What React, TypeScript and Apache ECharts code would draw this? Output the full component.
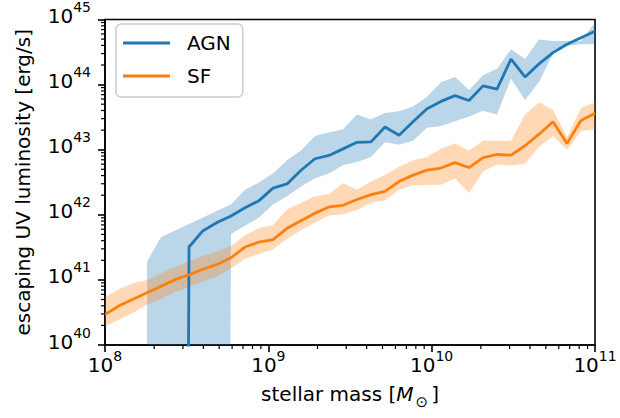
import React, { useEffect, useRef } from "react";
import * as echarts from "echarts";

// stellar mass bin positions [M_sun]
const mass = [
  1.0e8, 1.2186e8, 1.4845e8, 1.8089e8, 2.2028e8, 2.6827e8, 3.2692e8, 3.9811e8, 4.8517e8,
  5.9095e8, 7.1969e8, 8.77e8, 1.068e9, 1.3013e9, 1.5849e9, 1.9307e9, 2.352e9, 2.8655e9,
  3.4905e9, 4.2517e9, 5.1795e9, 6.3096e9, 7.686e9, 9.3633e9, 1.1406e10, 1.3895e10,
  1.6927e10, 2.0621e10, 2.5119e10, 3.0598e10, 3.7276e10, 4.541e10, 5.5317e10, 6.7388e10,
  8.209e10, 1.0e11,
];

// SF: escaping UV luminosity [erg/s]
const sfMedian = [
  2.93e40, 4.0e40, 5.05e40, 6.35e40, 8.0e40, 1.01e41, 1.2e41, 1.46e41, 1.73e41, 2.19e41,
  3.2e41, 3.81e41, 4.16e41, 6.2e41, 8.1e41, 1.06e42, 1.32e42, 1.4e42, 1.72e42, 2.04e42,
  2.29e42, 3.24e42, 4.07e42, 4.85e42, 5.23e42, 6.32e42, 5.32e42, 7.53e42, 8.44e42, 8.26e42,
  1.15e43, 1.73e43, 2.69e43, 1.25e43, 2.81e43, 3.62e43,
];
const sfUpper = [
  5.47e40, 7.2e40, 8.9e40, 9.97e40, 1.26e41, 1.58e41, 1.91e41, 2.35e41, 2.74e41, 3.32e41,
  4.86e41, 6.2e41, 7.0e41, 1.21e42, 1.53e42, 1.93e42, 2.09e42, 3.05e42, 2.42e42, 3.24e42,
  4.07e42, 5.45e42, 6.86e42, 7.7e42, 1.03e43, 1.25e43, 9.7e42, 1.37e43, 1.37e43, 1.37e43,
  3.46e43, 5.37e43, 4.11e43, 1.56e43, 4.36e43, 5.37e43,
];
const sfLower = [
  1.93e40, 2.47e40, 3.14e40, 4.14e40, 5.1e40, 6.5e40, 7.74e40, 9.5e40, 1.13e41, 1.5e41,
  2.12e41, 2.51e41, 2.94e41, 4.28e41, 5.78e41, 7.63e41, 9.73e41, 1.02e42, 1.18e42, 1.53e42,
  1.66e42, 2.42e42, 2.85e42, 2.88e42, 2.9e42, 3.63e42, 2.16e42, 4.63e42, 5.9e42, 5.7e42,
  6.1e42, 1.1e43, 1.63e43, 1.0e43, 1.94e43, 2.06e43,
];

// AGN: null = no bin, 0 = empty bin (drawn clipped at the bottom, as on a log axis)
const agnMedian = [
  null, null, null, null, null, 0, 3.2e41, 5.7e41, 7.6e41, 9.6e41,
  1.28e42, 1.65e42, 2.57e42, 2.98e42, 4.84e42, 7.26e42, 8.15e42, 1.03e43, 1.3e43, 1.32e43,
  2.23e43, 1.67e43, 2.69e43, 4.27e43, 5.52e43, 6.76e43, 5.69e43, 9.55e43, 8.53e43, 2.47e44,
  1.31e44, 2.08e44, 3.1e44, 4.16e44, 5.23e44, 6.59e44,
];
const agnUpper = [
  null, null, null, 1.91e41, 4.54e41, 5.73e41, 7.2e41, 9.08e41, 1.15e42, 1.44e42,
  2.42e42, 3.13e42, 4.32e42, 6.86e42, 9.7e42, 1.63e43, 1.83e43, 2.06e43, 3.46e43, 2.91e43,
  3.67e43, 3.88e43, 4.62e43, 6.53e43, 1.09e44, 1.31e44, 8.24e43, 1.39e44, 1.75e44, 3.5e44,
  2.47e44, 4.94e44, 4.67e44, 4.67e44, 4.67e44, 9.0e44,
];
const agnLower = [
  null, null, null, 0, 0, 0, 0, 0, 0, 5.08e41,
  6.8e41, 9.08e41, 1.44e42, 1.93e42, 2.72e42, 3.63e42, 4.32e42, 5.77e42, 6.49e42, 7.71e42,
  1.3e43, 1.19e43, 1.37e43, 2.18e43, 2.31e43, 2.74e43, 3.23e43, 3.98e43, 3.46e43, 1.24e44,
  5.82e43, 1.1e44, 2.94e44, 3.92e44, 4.16e44, 4.16e44,
];

const seriesNames = ["AGN", "SF"];
const colors = ["#1f77b4", "#ff7f0e"];
const bandColors = ["rgba(31,119,180,0.3)", "rgba(255,127,14,0.3)"];

const xRange = [1e8, 1e11];
const yRange = [1e40, 1e45];
const decadesX = [1e8, 1e9, 1e10];
const decadesY = [1e40, 1e41, 1e42, 1e43, 1e44];
const minorMult = [2, 3, 4, 5, 6, 7, 8, 9];

const FLOOR = 1; // where a zero lands on the log axis (far below the plot)
const pos = (v: number) => (v > 0 ? v : FLOOR);

const FONT = "DejaVu Sans";

function bandSeries(upper: (number | null)[], lower: (number | null)[], color: string, z: number) {
  return {
    type: "custom",
    coordinateSystem: "cartesian2d",
    silent: true,
    clip: true,
    z,
    data: [[mass[0], yRange[0]]],
    encode: { x: 0, y: 1 },
    renderItem: (params: any, api: any) => {
      const idx = mass.map((_, i) => i).filter((i) => upper[i] != null && lower[i] != null);
      const top = idx.map((i) => api.coord([mass[i], pos(upper[i] as number)]));
      const bot = idx
        .slice()
        .reverse()
        .map((i) => api.coord([mass[i], pos(lower[i] as number)]));
      const cs = params.coordSys;
      return {
        type: "polygon",
        shape: { points: top.concat(bot) },
        style: { fill: color },
        clipPath: { type: "rect", shape: { x: cs.x, y: cs.y, width: cs.width, height: cs.height } },
      };
    },
  };
}

function lineData(vals: (number | null)[]) {
  const out: number[][] = [];
  vals.forEach((v, i) => {
    if (v != null) out.push([mass[i], pos(v)]);
  });
  return out;
}

const supFormatter = (v: number) => `{b|10}{s|${Math.round(Math.log10(v))}}`;
const supRich = {
  b: { fontSize: 20, lineHeight: 20, fontFamily: FONT, color: "#000", verticalAlign: "bottom" },
  s: {
    fontSize: 14,
    lineHeight: 14,
    fontFamily: FONT,
    color: "#000",
    verticalAlign: "bottom",
    padding: [0, 0, 12, 0],
  },
};

export default function App() {
  const ref = useRef<HTMLDivElement>(null);
  useEffect(() => {
    if (!ref.current) return;
    const chart = echarts.init(ref.current, undefined, { renderer: "svg" });
    const xMinor = decadesX.flatMap((d) => minorMult.map((k) => k * d));
    const yMinor = decadesY.flatMap((d) => minorMult.map((k) => k * d));
    chart.setOption({
      animation: false,
      backgroundColor: "#fff",
      textStyle: { fontFamily: FONT },
      grid: {
        left: 105,
        right: 25,
        top: 13,
        bottom: 73,
        show: true,
        borderColor: "#000",
        borderWidth: 1.6,
        backgroundColor: "transparent",
      },
      legend: {
        orient: "vertical",
        left: 116,
        top: 24,
        data: seriesNames,
        icon: "rect",
        itemWidth: 47,
        itemHeight: 3,
        itemGap: 11,
        padding: [8, 12, 10, 7],
        backgroundColor: "rgba(255,255,255,0.8)",
        borderColor: "#cccccc",
        borderWidth: 1.5,
        borderRadius: 5,
        selectedMode: false,
        textStyle: { fontSize: 20, fontFamily: FONT, color: "#000", lineHeight: 22, padding: [0, 0, 0, 12] },
      },
      xAxis: {
        type: "log",
        logBase: 10,
        min: xRange[0],
        max: xRange[1],
        name: "{n|stellar mass [}{it|M}{sub|⊙}{n|]}",
        nameLocation: "middle",
        nameGap: 44,
        nameTextStyle: {
          fontSize: 20,
          fontFamily: FONT,
          color: "#000",
          rich: {
            n: { fontSize: 20, fontFamily: FONT, color: "#000", verticalAlign: "bottom", lineHeight: 20, padding: [0, 0, 5, 0] },
            it: { fontSize: 20, fontFamily: FONT, fontStyle: "italic", color: "#000", verticalAlign: "bottom", lineHeight: 20, padding: [0, 0, 5, 0] },
            sub: { fontSize: 15, fontFamily: FONT, color: "#000", verticalAlign: "bottom", lineHeight: 15, padding: [0, 3, 0, 2] },
          },
        },
        axisLine: { show: true, lineStyle: { color: "#000", width: 1.6 } },
        axisTick: { show: true, length: 7, lineStyle: { color: "#000", width: 1.6 } },
        splitLine: { show: false },
        minorTick: { show: false },
        axisLabel: { formatter: supFormatter, rich: supRich, margin: 10, showMinLabel: true, showMaxLabel: true },
      },
      yAxis: {
        type: "log",
        logBase: 10,
        min: yRange[0],
        max: yRange[1],
        name: "escaping UV luminosity [erg/s]",
        nameLocation: "middle",
        nameGap: 72,
        nameTextStyle: { fontSize: 20, fontFamily: FONT, color: "#000" },
        axisLine: { show: true, lineStyle: { color: "#000", width: 1.6 } },
        axisTick: { show: true, length: 7, lineStyle: { color: "#000", width: 1.6 } },
        splitLine: { show: false },
        minorTick: { show: false },
        axisLabel: {
          formatter: supFormatter,
          rich: supRich,
          margin: 14,
          padding: [0, 0, 7, 0],
          showMinLabel: true,
          showMaxLabel: true,
        },
      },
      series: [
        bandSeries(agnUpper, agnLower, bandColors[0], 1),
        bandSeries(sfUpper, sfLower, bandColors[1], 2),
        {
          name: seriesNames[0],
          type: "line",
          data: lineData(agnMedian),
          showSymbol: false,
          symbol: "none",
          clip: true,
          z: 3,
          color: colors[0],
          lineStyle: { color: colors[0], width: 2.8 },
          itemStyle: { color: colors[0] },
        },
        {
          name: seriesNames[1],
          type: "line",
          data: lineData(sfMedian),
          showSymbol: false,
          symbol: "none",
          clip: true,
          z: 4,
          color: colors[1],
          lineStyle: { color: colors[1], width: 2.8 },
          itemStyle: { color: colors[1] },
        },
        {
          type: "custom",
          coordinateSystem: "cartesian2d",
          silent: true,
          clip: false,
          z: 5,
          data: xMinor.map((v) => [v, yRange[0]]),
          renderItem: (_p: any, api: any) => {
            const p = api.coord([api.value(0), yRange[0]]);
            return {
              type: "line",
              shape: { x1: p[0], y1: p[1], x2: p[0], y2: p[1] + 4 },
              style: { stroke: "#000", lineWidth: 1.2 },
            };
          },
        },
        {
          type: "custom",
          coordinateSystem: "cartesian2d",
          silent: true,
          clip: false,
          z: 5,
          data: yMinor.map((v) => [xRange[0], v]),
          renderItem: (_p: any, api: any) => {
            const p = api.coord([xRange[0], api.value(1)]);
            return {
              type: "line",
              shape: { x1: p[0] - 4, y1: p[1], x2: p[0], y2: p[1] },
              style: { stroke: "#000", lineWidth: 1.2 },
            };
          },
        },
      ],
    });
    return () => chart.dispose();
  }, []);
  return (
    <div
      ref={ref}
      style={{ position: "fixed", left: 0, top: 0, width: 620, height: 418, background: "#fff" }}
    />
  );
}
